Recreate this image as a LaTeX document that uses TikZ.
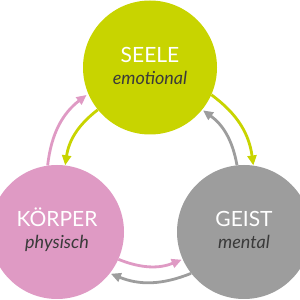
\documentclass[tikz,border=0pt]{standalone}
\usepackage{fontspec}
\setsansfont{Lato}
\usetikzlibrary{arrows.meta,positioning}
\definecolor{seelegruen}{HTML}{C8D400}
\definecolor{koerperrosa}{HTML}{DF9AC4}
\definecolor{geistgrau}{HTML}{9D9D9D}
\definecolor{schrift}{HTML}{3A3A3A}

\begin{document}
\begin{tikzpicture}[
    x=1pt, y=1pt,
    kreis/.style={circle, minimum size=134pt, inner sep=0pt},
    titel/.style={anchor=base, text=white, font=\sffamily\fontsize{21}{21}\selectfont},
    art/.style={anchor=base, text=schrift, font=\sffamily\itshape\fontsize{18}{18}\selectfont},
    pfeil/.style={line width=2.8pt, -{Triangle[length=10pt,width=9pt]}},
  ]
    \useasboundingbox (0,0) rectangle (300,300);

    % Kreise
    \node[kreis, fill=seelegruen] (seele) at (150,232.5) {};
    \node[kreis, fill=koerperrosa] (koerper) at (57,68) {};
    \node[kreis, fill=geistgrau] (geist) at (244,68) {};

    % Beschriftung
    \node[titel] (seeletitel) at ([yshift=4.5pt]seele.center) {SEELE};
    \node[art] (seeleart) at ([yshift=-17.5pt]seele.center) {emotional};
    \node[titel] (koerpertitel) at ([yshift=5pt]koerper.center) {KÖRPER};
    \node[art] (koerperart) at ([yshift=-17pt]koerper.center) {physisch};
    \node[titel] (geisttitel) at ([yshift=5pt]geist.center) {GEIST};
    \node[art] (geistart) at ([yshift=-17pt]geist.center) {mental};

    % Pfeile links
    \draw[pfeil, koerperrosa, shorten >=2pt] (koerper.98) to[bend left=23] (seele.203);
    \draw[pfeil, seelegruen] (seele.219) to[bend right=22] (koerper.83);

    % Pfeile rechts
    \draw[pfeil, seelegruen] (seele.336) to[bend left=23] (geist.82);
    \draw[pfeil, geistgrau, shorten >=1pt] (geist.96) to[bend right=22] (seele.321);

    % Pfeile unten
    \draw[pfeil, koerperrosa, shorten >=1pt] (koerper.336) to[bend right=22] (geist.204);
    \draw[pfeil, geistgrau, shorten >=1pt] (geist.218) to[bend left=22] (koerper.322);
  \end{tikzpicture}
\end{document}
